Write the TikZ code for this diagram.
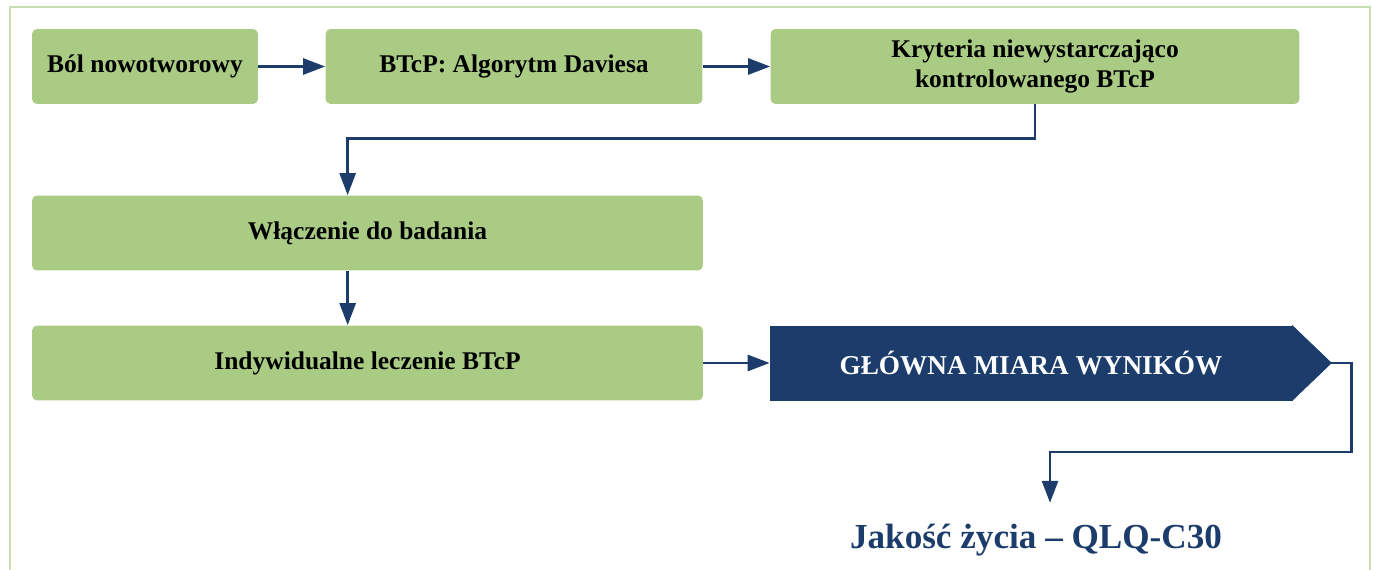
\documentclass[tikz,border=0pt]{standalone}
\usepackage{fontspec}
\setmainfont{Liberation Serif}
\usepackage{tikz}
\usetikzlibrary{positioning,arrows.meta}

\definecolor{boxgreen}{HTML}{A9CB84}
\definecolor{framegreen}{HTML}{C6DEB2}
\definecolor{navy}{HTML}{1C3D6B}

\tikzset{
  greenbox/.style={fill=boxgreen, rounded corners=0.1cm, minimum height=1.5cm,
    align=center, font=\bfseries\fontsize{14.5}{17.5}\selectfont, inner sep=0pt},
  link/.style={draw=navy, line width=1.5pt, -{Triangle[length=0.44cm,width=0.32cm]}},
}

\begin{document}
\begin{tikzpicture}[x=0.02cm, y=-0.02cm]
				\useasboundingbox (0,0) rectangle (1373,570);
				\draw[framegreen, line width=1.2pt] (10,575) -- (10,7) -- (1370,7) -- (1370,575);
				
				% first row
				\node[greenbox, minimum width=4.52cm] (bol) at (145,66.5) {B\'ol nowotworowy};
				\node[greenbox, minimum width=7.54cm] (btcp) at (514,66.5) {BTcP: Algorytm Daviesa};
				\node[greenbox, minimum width=10.58cm] (kryt) at (1035,66.5) {Kryteria niewystarczaj\k{a}co\\kontrolowanego BTcP};
				
				% left column
				\node[greenbox, minimum width=13.42cm] (wlacz) at (367.5,233) {W\l\k{a}czenie do badania};
				\node[greenbox, minimum width=13.42cm] (indyw) at (367.5,363) {Indywidualne leczenie BTcP};
				
				% outcome banner
				\node[fill=navy, draw=navy, line width=0.4pt, text=white, minimum width=10.44cm, minimum height=1.48cm,
				  font=\bfseries\fontsize{15.5}{18}\selectfont, inner sep=0pt] (glowna) at (1031,363) {G\L\'OWNA MIARA WYNIK\'OW};
				\filldraw[navy, line width=0.4pt] (glowna.north east) -- ([xshift=0.78cm]glowna.east) coordinate (tip) -- (glowna.south east) -- cycle;
				
				\node[text=navy, font=\bfseries\fontsize{20}{24}\selectfont] (wynik) at (1036,540) {Jako\'s\'c \.zycia -- QLQ-C30};
				
				\draw[link] (bol) -- (btcp);
				\draw[link] (btcp) -- (kryt);
				\draw[link] (kryt.south) -- ++(0,34) -| ([xshift=6.32cm]wlacz.north west);
				\draw[link] ([xshift=6.32cm]wlacz.south west) -- ([xshift=6.32cm]indyw.north west);
				\draw[link] (indyw) -- (glowna);
				\draw[link] (tip) -- ++(20,0) -- ++(0,89) -| ([xshift=0.28cm, yshift=0.3cm]wynik.north);
			\end{tikzpicture}
\end{document}
